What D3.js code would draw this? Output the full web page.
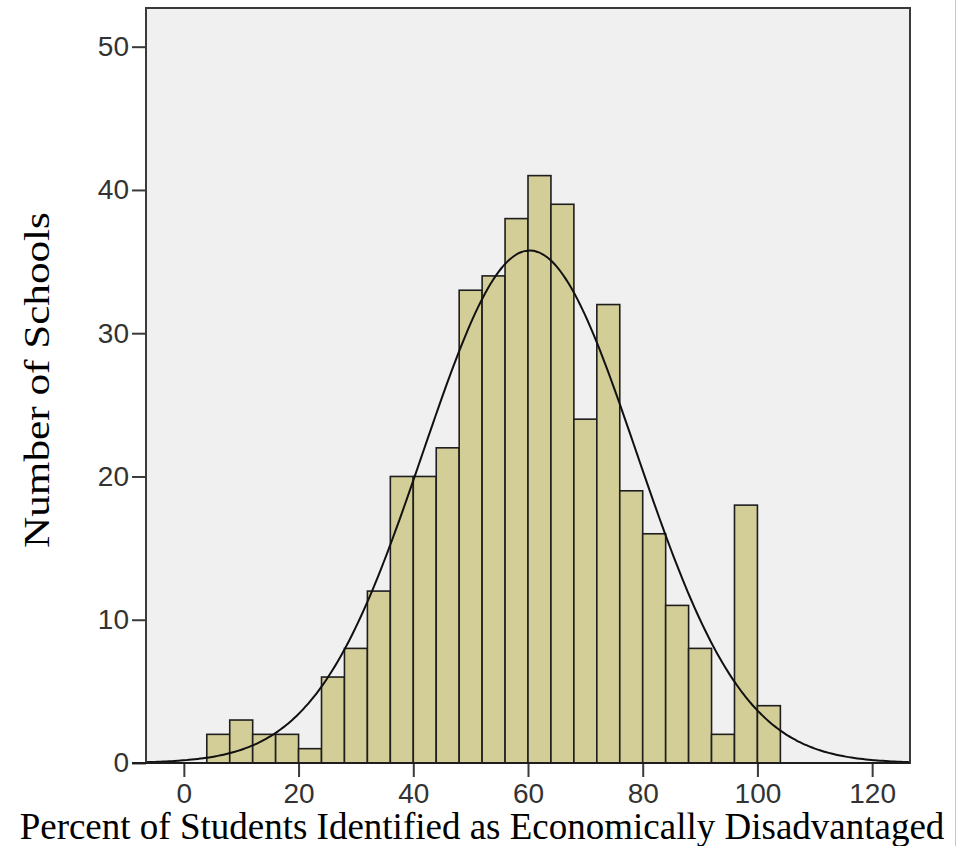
<!DOCTYPE html>
<html>
<head>
<meta charset="utf-8">
<script src="https://cdn.jsdelivr.net/npm/d3@7"></script>
<style>
  body { margin: 0; background: #fff; }
</style>
</head>
<body>
<div id="chart"></div>
<script>
// histogram bins (lower edges) and counts
const binStarts = [4, 8, 12, 16, 20, 24, 28, 32, 36, 40, 44, 48, 52, 56, 60, 64, 68, 72, 76, 80, 84, 88, 92, 96, 100];
const binCounts = [2, 3, 2, 2, 1, 6, 8, 12, 20, 20, 22, 33, 34, 38, 41, 39, 24, 32, 19, 16, 11, 8, 2, 18, 4];
const binWidth = 4;

// fitted normal curve parameters
const curveMean = 60.3;
const curveSd = 18.6;

const xTicks = [0, 20, 40, 60, 80, 100, 120];
const yTicks = [0, 10, 20, 30, 40, 50];

const xTitle = 'Percent of Students Identified as Economically Disadvantaged';
const yTitle = 'Number of Schools';

const width = 957, height = 846;
const plot = { left: 146, right: 910, top: 8, bottom: 763 };

const svg = d3.select('#chart')
    .append('svg')
    .attr('width', width)
    .attr('height', height);

const x = d3.scaleLinear()
    .domain([-6.6, 126.6])
    .range([plot.left, plot.right]);

const y = d3.scaleLinear()
    .domain([0, 52.7])
    .range([plot.bottom, plot.top]);

// page edge line on the right
svg.append('line')
    .attr('x1', 955.5).attr('x2', 955.5)
    .attr('y1', 0).attr('y2', height)
    .attr('stroke', '#c8c8c8')
    .attr('stroke-width', 1);

// plot background
svg.append('rect')
    .attr('x', plot.left)
    .attr('y', plot.top)
    .attr('width', plot.right - plot.left)
    .attr('height', plot.bottom - plot.top)
    .attr('fill', '#f0f0f0');

// bars
const bins = binStarts.map((s, i) => ({ x0: s, x1: s + binWidth, n: binCounts[i] }));
svg.append('g')
    .selectAll('rect')
    .data(bins)
    .enter()
    .append('rect')
    .attr('x', d => x(d.x0))
    .attr('y', d => y(d.n))
    .attr('width', d => x(d.x1) - x(d.x0))
    .attr('height', d => y(0) - y(d.n))
    .attr('fill', '#d3ce97')
    .attr('stroke', '#1e1e1e')
    .attr('stroke-width', 1.6);

// normal curve scaled to counts
const total = d3.sum(binCounts);
const pdf = v => total * binWidth / (curveSd * Math.sqrt(2 * Math.PI)) *
    Math.exp(-0.5 * Math.pow((v - curveMean) / curveSd, 2));
const curvePts = d3.range(x.domain()[0], x.domain()[1] + 0.01, 0.5).map(v => [v, pdf(v)]);

svg.append('path')
    .datum(curvePts)
    .attr('fill', 'none')
    .attr('stroke', '#111')
    .attr('stroke-width', 2)
    .attr('d', d3.line().x(d => x(d[0])).y(d => y(d[1])).curve(d3.curveBasis));

// frame
svg.append('rect')
    .attr('x', plot.left)
    .attr('y', plot.top)
    .attr('width', plot.right - plot.left)
    .attr('height', plot.bottom - plot.top)
    .attr('fill', 'none')
    .attr('stroke', '#3a3a3a')
    .attr('stroke-width', 2);

// axes
const yAxis = svg.append('g')
    .attr('transform', `translate(${plot.left},0)`)
    .call(d3.axisLeft(y).tickValues(yTicks).tickSize(14).tickPadding(3).tickFormat(d3.format('d')));

const xAxis = svg.append('g')
    .attr('transform', `translate(0,${plot.bottom})`)
    .call(d3.axisBottom(x).tickValues(xTicks).tickSize(14).tickPadding(6).tickFormat(d3.format('d')));

[xAxis, yAxis].forEach(ax => {
    ax.select('.domain').remove();
    ax.selectAll('.tick line').attr('stroke', '#3a3a3a').attr('stroke-width', 2);
    ax.selectAll('.tick text')
        .attr('font-family', '"Liberation Sans", Arial, sans-serif')
        .attr('font-size', 28)
        .attr('fill', '#333');
});

// x axis line across the bottom
svg.append('line')
    .attr('x1', plot.left - 14).attr('x2', plot.right)
    .attr('y1', plot.bottom).attr('y2', plot.bottom)
    .attr('stroke', '#1e1e1e')
    .attr('stroke-width', 2);

// axis titles
svg.append('text')
    .attr('x', 482)
    .attr('y', 839)
    .attr('text-anchor', 'middle')
    .attr('font-family', '"Liberation Serif", "Times New Roman", serif')
    .attr('font-size', 37)
    .attr('fill', '#000')
    .text(xTitle);

svg.append('text')
    .attr('transform', 'translate(49,380) scale(1,1.2) rotate(-90)')
    .attr('text-anchor', 'middle')
    .attr('font-family', '"Liberation Serif", "Times New Roman", serif')
    .attr('font-size', 36)
    .attr('fill', '#000')
    .text(yTitle);
</script>
</body>
</html>
